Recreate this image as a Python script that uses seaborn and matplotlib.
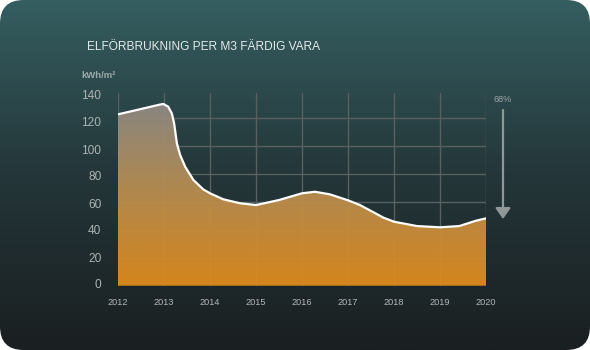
import numpy as np
import matplotlib
matplotlib.use("Agg")
import matplotlib.pyplot as plt
import seaborn as sns
import pandas as pd
from matplotlib.patches import FancyBboxPatch, Polygon, FancyArrowPatch
from matplotlib.colors import LinearSegmentedColormap

# ---- data ----
years = [2012.0, 2012.5, 2012.9, 2012.985, 2013.09, 2013.17, 2013.22, 2013.25,
         2013.28, 2013.35, 2013.46, 2013.64, 2013.85, 2014.0, 2014.29, 2014.65,
         2015.0, 2015.5, 2016.0, 2016.28, 2016.6, 2017.0, 2017.26, 2017.5,
         2017.77, 2018.0, 2018.5, 2019.0, 2019.42, 2019.78, 2020.0]
values = [122.4, 126.2, 129.3, 129.8, 127.9, 123.1, 116.0, 108.9,
          101.7, 93.4, 85.0, 75.5, 68.9, 66.0, 61.7, 58.9,
          57.6, 61.2, 66.0, 67.1, 65.3, 61.0, 57.6, 53.4,
          48.6, 45.7, 42.6, 41.7, 42.6, 46.4, 48.1]
x_ticks = [2012, 2013, 2014, 2015, 2016, 2017, 2018, 2019, 2020]
y_ticks = [0, 20, 40, 60, 80, 100, 120, 140]
title = "ELFÖRBRUKNING PER M3 FÄRDIG VARA"
unit_label = "kWh/m²"
change_label = "68%"

df = pd.DataFrame({"year": years, "value": values})

plt.rcParams['font.family'] = ['Liberation Sans', 'DejaVu Sans']

W, H = 590, 350
fig = plt.figure(figsize=(W / 100, H / 100), dpi=100)
fig.patch.set_facecolor("white")

# background card with vertical gradient
bg = fig.add_axes([0, 0, 1, 1])
bg.set_axis_off()
bg.set_xlim(0, 1)
bg.set_ylim(0, 1)
bg_cmap = LinearSegmentedColormap.from_list("bg", ["#1a1f21", "#243639", "#355e60"])
grad = np.linspace(0, 1, 256).reshape(-1, 1)
im = bg.imshow(grad, extent=[0, 1, 0, 1], origin="lower", cmap=bg_cmap,
               aspect="auto", zorder=0)
card = FancyBboxPatch((0.0, 0.0), 1.0, 1.0,
                      boxstyle="round,pad=0,rounding_size=0.04",
                      transform=bg.transAxes, facecolor="none", edgecolor="none",
                      mutation_aspect=W / H)
bg.add_patch(card)
im.set_clip_path(card)

# main (data) axes
top_px, bot_px = 89.7, 285.7
ax = fig.add_axes([118 / W, 1 - bot_px / H, (486 - 118) / W, (bot_px - top_px) / H])
ax.set_facecolor("none")

grid_c = "#596060"
for yv in y_ticks[1:-1]:
    ax.axhline(yv, color=grid_c, lw=1.0, zorder=1)
for xv in x_ticks:
    ax.axvline(xv, ymax=0.985, color=grid_c, lw=1.0, zorder=1)

# gradient fill under curve
fill_cmap = LinearSegmentedColormap.from_list("fill", ["#de8a1c", "#b98d4e", "#8d8985"])
fgrad = np.linspace(0, 1, 256).reshape(-1, 1)
fim = ax.imshow(fgrad, extent=[2012, 2020, 0, 131], origin="lower",
                cmap=fill_cmap, aspect="auto", zorder=2, alpha=0.96)
poly_xy = np.column_stack([[years[0]] + years + [years[-1]],
                           [0] + values + [0]])
poly = Polygon(poly_xy, closed=True, transform=ax.transData,
               facecolor="none", edgecolor="none")
ax.add_patch(poly)
fim.set_clip_path(poly)

sns.lineplot(data=df, x="year", y="value", ax=ax, color="white",
             linewidth=1.6, zorder=3, sort=False)
for ln in ax.get_lines():
    ln.set_solid_joinstyle("round")
    ln.set_solid_capstyle("round")

ax.set_xlim(2012, 2020)
ax.set_ylim(0, 140)
for s in ax.spines.values():
    s.set_visible(False)
ax.set_xlabel("")
ax.set_ylabel("")
ax.set_xticks(x_ticks)
ax.set_xticklabels([str(t) for t in x_ticks])
ax.set_yticks([])
ax.tick_params(axis="x", length=0, pad=9, labelsize=6.6, colors="#b2b7b7")

# y labels: spread a little tighter than the grid, as in the reference
lab_ax = ax.twinx()
lab_ax.yaxis.tick_left()
lo = -(bot_px - 284) / 1.35
lab_ax.set_ylim(lo, lo + (bot_px - top_px) / 1.35)
lab_ax.set_yticks(y_ticks)
lab_ax.set_yticklabels([str(t) for t in y_ticks])
lab_ax.tick_params(axis="y", left=False, right=False, length=0, pad=12,
                   labelsize=8.6, colors="#aab3b3")
for s in lab_ax.spines.values():
    s.set_visible(False)
lab_ax.xaxis.set_visible(False)

# texts
fig.text(87 / W, 1 - 47 / H, title, fontsize=8.6, color="#e3e9e9",
         ha="left", va="center")
fig.text(81 / W, 1 - 76 / H, unit_label, fontsize=6.8, color="#9ea9a9",
         ha="left", va="center", fontweight="bold")
fig.text(503 / W, 1 - 100 / H, change_label, fontsize=6.6, color="#9aa3a3",
         ha="center", va="center")
fig.add_artist(FancyArrowPatch(
    (503 / W, 1 - 110 / H), (503 / W, 1 - 219 / H),
    transform=fig.transFigure, arrowstyle="-|>,head_width=3.5,head_length=5",
    color="#8f9797", lw=1.6, mutation_scale=1.3, shrinkA=0, shrinkB=0))

fig.savefig("out.png", dpi=100, facecolor=fig.get_facecolor())
